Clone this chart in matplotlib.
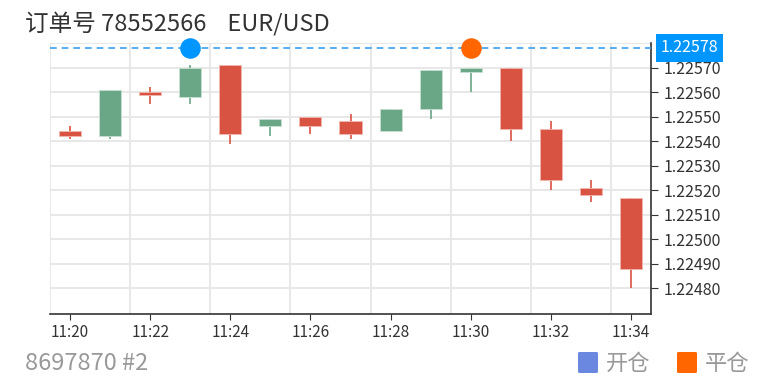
import matplotlib.pyplot as plt
from matplotlib.patches import FancyBboxPatch
import numpy as np

plt.rcParams['font.family'] = ['Noto Sans CJK SC', 'DejaVu Sans']

# =========================
# DATA
# =========================
times = ["11:20", "11:21", "11:22", "11:23", "11:24", "11:25", "11:26", "11:27",
         "11:28", "11:29", "11:30", "11:31", "11:32", "11:33", "11:34"]
opens = [1.22544, 1.22542, 1.22560, 1.22558, 1.22571, 1.22546, 1.22550, 1.22548,
         1.22544, 1.22553, 1.22568, 1.22570, 1.22545, 1.22521, 1.22517]
closes = [1.22542, 1.22561, 1.22559, 1.22570, 1.22543, 1.22549, 1.22546, 1.22543,
          1.22553, 1.22569, 1.22570, 1.22545, 1.22524, 1.22518, 1.22488]
highs = [1.22546, 1.22561, 1.22562, 1.22571, 1.22571, 1.22549, 1.22550, 1.22551,
         1.22553, 1.22569, 1.22570, 1.22570, 1.22548, 1.22524, 1.22517]
lows = [1.22541, 1.22541, 1.22555, 1.22555, 1.22539, 1.22542, 1.22543, 1.22541,
        1.22544, 1.22549, 1.22560, 1.22540, 1.22520, 1.22515, 1.22480]

order_price = 1.22578
open_idx = 3    # 开仓 at 11:23
close_idx = 10  # 平仓 at 11:30

yticks = [1.22480, 1.22490, 1.22500, 1.22510, 1.22520,
          1.22530, 1.22540, 1.22550, 1.22560, 1.22570]
y_top = 1.22580

# =========================
# PLOT
# =========================
UP = "#6aa786"
DOWN = "#d95342"
GRID = "#e6e6e6"

fig = plt.figure(figsize=(7.75, 3.87), dpi=100)
ax = fig.add_axes([50 / 775, 1 - 314 / 387, 601 / 775, (314 - 43) / 387])

x = np.arange(len(times))
o = np.array(opens)
c = np.array(closes)
up = c >= o
colors = [UP if u else DOWN for u in up]
edges = ["#c8e0d2" if u else "#f0b8b0" for u in up]

ax.vlines(x, lows, highs, colors=colors, linewidth=1.2, zorder=2)
body_h = np.maximum(np.abs(c - o), 0.000008)
ax.bar(x, body_h, bottom=np.minimum(o, c), width=0.55, color=colors,
       edgecolor=edges, linewidth=0.6, zorder=3)

# order price line + open / close markers
ax.axhline(order_price, color="#3aa0f0", linestyle=(0, (4, 3)), linewidth=1.2, zorder=4)
ax.scatter([open_idx], [order_price], s=190, color="#0096ff", zorder=5, clip_on=False)
ax.scatter([close_idx], [order_price], s=190, color="#ff6600", zorder=5, clip_on=False)

ax.set_xlim(-0.5, len(times) - 0.5)
ax.set_ylim(1.224695, y_top)

# axes styling
ax.yaxis.tick_right()
ax.set_yticks(yticks)
ax.set_yticklabels([f"{v:.5f}" for v in yticks])
ax.set_xticks(x[::2])
ax.set_xticklabels(times[::2])
ax.set_xticks(np.arange(-0.5, len(times), 2), minor=True)

ax.grid(False)
ax.grid(True, axis="y", which="major", color=GRID, linewidth=1.3)
ax.grid(True, axis="x", which="minor", color=GRID, linewidth=1.3)
ax.axhline(y_top, color=GRID, linewidth=1.3, zorder=0)
ax.tick_params(axis="both", which="minor", length=0)
ax.tick_params(axis="y", which="major", length=5, color="#333333",
               labelcolor="#333333", labelsize=11.5, pad=4)
ax.tick_params(axis="x", which="major", length=4, color="#333333",
               labelcolor="#333333", labelsize=11, pad=3)
ax.set_axisbelow(True)

for s in ["left", "top"]:
    ax.spines[s].set_visible(False)
for s in ["right", "bottom"]:
    ax.spines[s].set_color("#333333")
    ax.spines[s].set_linewidth(1.2)

# price label box on right axis
ax.annotate(f"{order_price:.5f}", xy=(1.0, order_price), xycoords=("axes fraction", "data"),
            xytext=(7, 0), textcoords="offset points", ha="left", va="center",
            fontsize=11.5, color="white",
            bbox=dict(boxstyle="square,pad=0.32", fc="#0096ff", ec="none"), zorder=6)

# title texts
fig.text(25 / 775, 1 - 25 / 387, "订单号 78552566    EUR/USD", fontsize=17,
         color="#333333", ha="left", va="center")
fig.text(25 / 775, 1 - 363 / 387, "8697870 #2", fontsize=17,
         color="#999999", ha="left", va="center")

# legend (positions in inches, dpi 100)
for lx, col, label in [(578, "#6b88e0", "开仓"), (677, "#ff6600", "平仓")]:
    fig.patches.append(FancyBboxPatch((lx / 100, (387 - 373) / 100), 0.20, 0.21,
                                      boxstyle="round,pad=0,rounding_size=0.015",
                                      transform=fig.dpi_scale_trans,
                                      facecolor=col, edgecolor="none"))
    fig.text((lx + 28) / 775, 1 - 363 / 387, label, fontsize=16, color="#999999",
             ha="left", va="center")

fig.savefig("out.png", dpi=100)
